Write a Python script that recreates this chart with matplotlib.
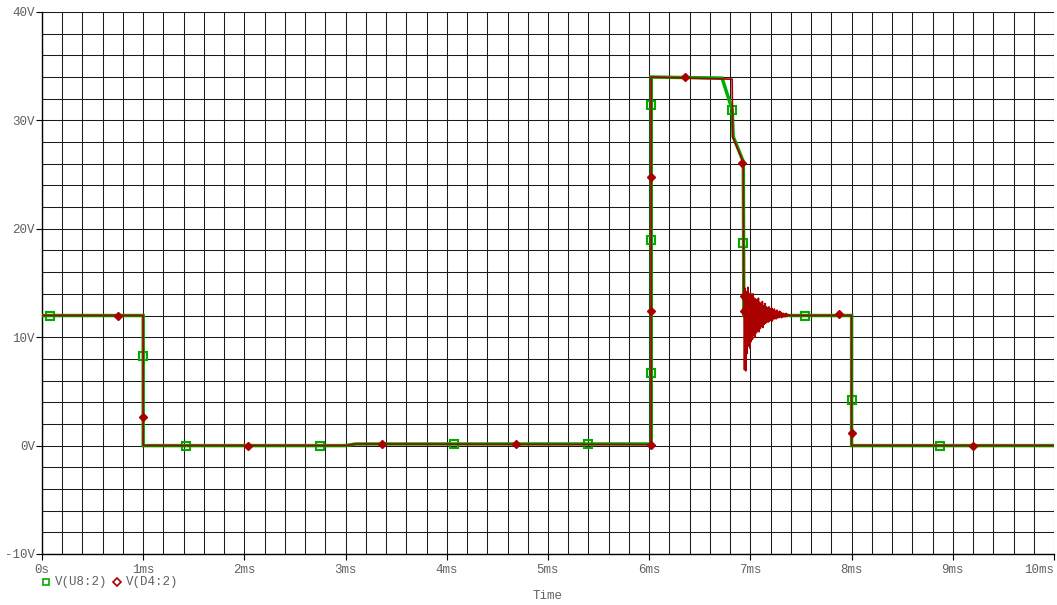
import matplotlib.pyplot as plt
import numpy as np

# V(U8:2) - time in ms, voltage in V
green_t = [0, 1.0, 1.0, 3.0, 3.1, 6.02, 6.02, 6.72, 6.82, 6.83, 6.93, 6.935, 8.0, 8.0, 10.0]
green_v = [12, 12, 0, 0, 0.15, 0.15, 34.0, 33.9, 31.0, 28.5, 26.2, 12, 12, 0, 0]
green_mt = [0.08, 1.0, 1.42, 2.75, 4.07, 5.40, 6.02, 6.02, 6.02, 6.82, 6.93, 7.54, 8.0, 8.87]
green_mv = [12, 8.3, 0, 0, 0.15, 0.15, 6.7, 19.0, 31.4, 31.0, 18.7, 12, 4.2, 0]

# V(D4:2) before and after the ringing
red_t_a = [0, 1.0, 1.0, 3.0, 3.1, 6.02, 6.02, 6.82, 6.825, 6.93]
red_v_a = [12, 12, 0, 0, 0.15, 0.1, 34.0, 33.8, 28.5, 26.1]
ring_v = [14.8, 7.0, 14.5, 6.9, 14.2, 8.5, 14.6, 9.2, 13.9, 9.0, 14.1, 9.6,
          13.8, 9.8, 14.0, 10.2, 13.6, 10.0, 13.5, 10.4, 13.4, 10.6, 13.6, 10.5,
          13.2, 10.8, 13.0, 11.0, 13.3, 10.9, 12.9, 11.2, 13.1, 11.3, 12.8, 11.4,
          12.7, 11.4, 12.8, 11.5, 12.6, 11.6, 12.7, 11.5, 12.5, 11.7, 12.6, 11.7,
          12.4, 11.7, 12.5, 11.8, 12.3, 11.8, 12.4, 11.9, 12.3, 11.8, 12.2, 11.9,
          12.2, 11.9, 12.1, 11.9, 12.2, 11.95, 12.1, 12.0, 12.05, 12.0, 12.0, 12.0]
ring_start, ring_end = 6.935, 7.40
red_t_b = [8.0, 8.0, 10.0]
red_v_b = [12, 0, 0]
red_mt = [0.75, 1.0, 2.04, 3.36, 4.68, 6.02, 6.02, 6.02, 6.35, 6.92, 6.94, 6.94, 7.88, 8.0, 9.2]
red_mv = [12, 2.6, 0, 0.15, 0.15, 0.1, 12.4, 24.8, 34.0, 26.1, 13.8, 12.4, 12.1, 1.2, 0]

x_ticks = list(range(0, 11))
x_labels = ['0s'] + [f'{i}ms' for i in range(1, 11)]
y_ticks = list(range(-10, 41, 10))
y_labels = [f'{v}V' for v in y_ticks]

ring_t = list(np.linspace(ring_start, ring_end, len(ring_v)))
red_t = red_t_a + ring_t + red_t_b
red_v = red_v_a + ring_v + red_v_b

GREEN = '#00ad00'
RED = '#aa0000'
TXT = '#606060'
FONT = 'Liberation Mono'

fig = plt.figure(figsize=(10.57, 6.05), dpi=100)
ax = fig.add_axes([42 / 1057, 51 / 605, 1012 / 1057, 542 / 605])

ax.set_xlim(0, 10)
ax.set_ylim(-10, 40)
ax.set_xticks(x_ticks, x_labels)
ax.set_yticks(y_ticks, y_labels)
ax.set_xticks(np.arange(0, 10.01, 0.2), minor=True)
ax.set_yticks(np.arange(-10, 40.01, 2), minor=True)
ax.grid(which='both', color='#1a1a1a', linewidth=0.75)
ax.set_axisbelow(True)

ax.tick_params(which='major', length=4, width=0.8, color='black', labelcolor=TXT,
               labelsize=9)
ax.tick_params(which='minor', length=0)
ax.tick_params(axis='x', pad=3)
ax.tick_params(axis='y', pad=1)
for lab in ax.get_xticklabels() + ax.get_yticklabels():
    lab.set_fontfamily(FONT)
ax.get_xticklabels()[-1].set_horizontalalignment('right')

for s in ['top', 'right']:
    ax.spines[s].set_visible(False)
ax.spines['bottom'].set_linewidth(1.0)
ax.spines['left'].set_linewidth(1.0)

ax.plot(green_t, green_v, color=GREEN, linewidth=2.5, solid_joinstyle='miter', zorder=3)
ax.plot(green_mt, green_mv, linestyle='none', marker='s', markersize=5.5,
        markerfacecolor='none', markeredgecolor=GREEN, markeredgewidth=1.5, zorder=4)
ax.plot(red_t, red_v, color=RED, linewidth=1.2, zorder=5)
ax.plot(red_mt, red_mv, linestyle='none', marker='D', markersize=4.5,
        color=RED, zorder=6)

# legend under the axis, PSpice style
fig.lines.append(plt.Line2D([46 / 1057], [1 - 582 / 605], transform=fig.transFigure,
                            marker='s', markersize=5, markerfacecolor='none',
                            markeredgecolor=GREEN, markeredgewidth=1.2, linestyle='none'))
fig.text(55 / 1057, 1 - 582 / 605, 'V(U8:2)', color=TXT, fontsize=9, family=FONT, va='center')
fig.lines.append(plt.Line2D([117 / 1057], [1 - 582 / 605], transform=fig.transFigure,
                            marker='D', markersize=4.5, markerfacecolor='none',
                            markeredgecolor=RED, markeredgewidth=1.2, linestyle='none'))
fig.text(126 / 1057, 1 - 582 / 605, 'V(D4:2)', color=TXT, fontsize=9, family=FONT, va='center')
fig.text(548 / 1057, 1 - 596 / 605, 'Time', color=TXT, fontsize=9, family=FONT,
         ha='center', va='center')

fig.savefig('out.png', dpi=100)
